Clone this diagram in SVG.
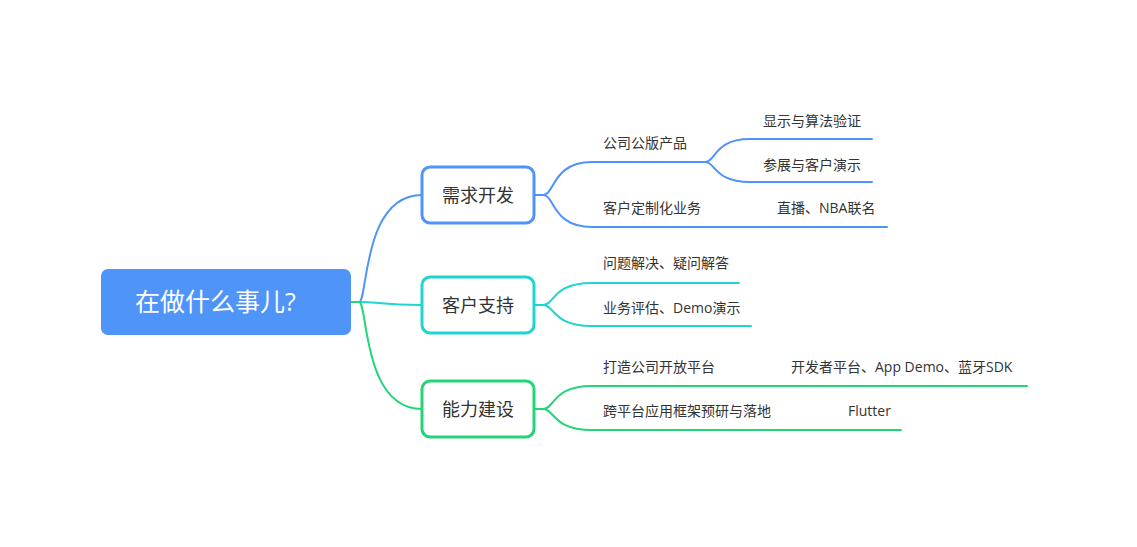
<svg xmlns="http://www.w3.org/2000/svg" width="1137" height="547" viewBox="0 0 1137 547">
<style>
text{font-family:"Open Sans","Noto Sans CJK SC",sans-serif;fill:#333}
.l{fill:none;stroke-width:2;stroke-linecap:round}
.b{stroke:#4f94f8}.t{stroke:#1ed5d2}.g{stroke:#22d675}
.n{fill:#fff;stroke-width:3}
.nt{font-size:18px;text-anchor:middle}
.s{font-size:14px}
</style>
<rect width="1137" height="547" fill="#fff"/>
<g id="connectors">
<path class="l b" d="M351 302 L359 302 C368 302 362 195 422 195"/>
<path class="l t" d="M351 302 L359 302 C380 302 380 305 422 305"/>
<path class="l g" d="M351 302 L359 302 C368 302 362 409 422 409"/>
<path class="l b" d="M534 195 L543 195 C555 195 552 162 592 162 L705 162"/>
<path class="l b" d="M543 195 C555 195 552 227 592 227 L887 227"/>
<path class="l b" d="M705 162 C716 162 714 139 750 139 L872 139"/>
<path class="l b" d="M705 162 C716 162 714 182 750 182 L872 182"/>
<path class="l t" d="M534 305 L543 305 C555 305 552 283 592 283 L739 283"/>
<path class="l t" d="M543 305 C555 305 552 326 592 326 L751 326"/>
<path class="l g" d="M534 409 L543 409 C555 409 552 386 592 386 L1027 386"/>
<path class="l g" d="M543 409 C555 409 552 430 592 430 L901 430"/>
</g>
<g id="root">
<rect x="101" y="269" width="250" height="66" rx="7" fill="#4f94f8"/>
<text x="135" y="311" font-size="25" style="fill:#fff">在做什么事儿?</text>
</g>
<g id="n1">
<rect class="n b" x="422" y="167" width="112" height="56" rx="8"/>
<text class="nt" x="478" y="202">需求开发</text>
</g>
<g id="n2">
<rect class="n t" x="422" y="277" width="112" height="56" rx="8"/>
<text class="nt" x="478" y="312">客户支持</text>
</g>
<g id="n3">
<rect class="n g" x="422" y="381" width="112" height="56" rx="8"/>
<text class="nt" x="478" y="416">能力建设</text>
</g>
<g id="n1a"><text class="s" x="603" y="148">公司公版产品</text></g>
<g id="n1a1"><text class="s" x="763" y="126">显示与算法验证</text></g>
<g id="n1a2"><text class="s" x="763" y="170">参展与客户演示</text></g>
<g id="n1b"><text class="s" x="603" y="213">客户定制化业务</text></g>
<g id="n1b1"><text class="s" x="777" y="213">直播、NBA联名</text></g>
<g id="n2a"><text class="s" x="603" y="268">问题解决、疑问解答</text></g>
<g id="n2b"><text class="s" x="603" y="313">业务评估、Demo演示</text></g>
<g id="n3a"><text class="s" x="603" y="372">打造公司开放平台</text></g>
<g id="n3a1"><text class="s" x="791" y="372">开发者平台、App Demo、蓝牙SDK</text></g>
<g id="n3b"><text class="s" x="603" y="416">跨平台应用框架预研与落地</text></g>
<g id="n3b1"><text class="s" x="848" y="416">Flutter</text></g>
</svg>
